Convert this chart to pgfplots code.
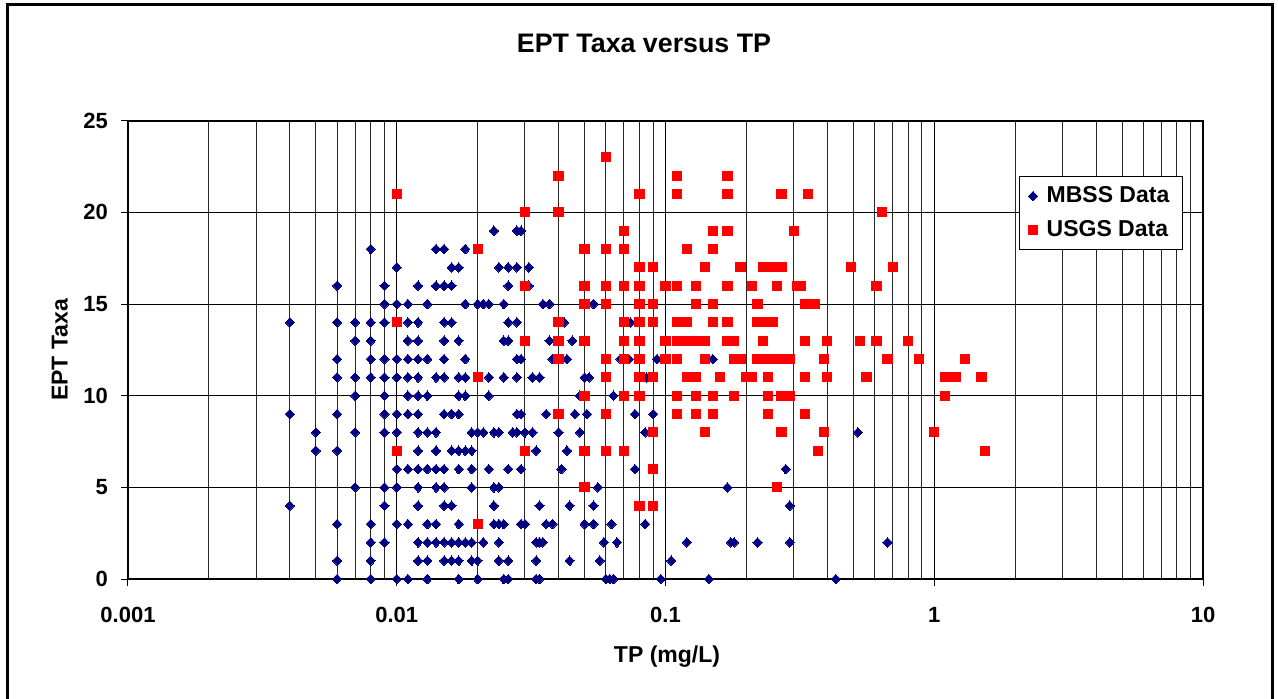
\documentclass[border=0pt]{standalone}
\usepackage{fontspec}
\setmainfont{Liberation Sans}
\usepackage{pgfplots}
\pgfplotsset{compat=1.18}
\definecolor{mbss}{RGB}{0,0,128}
\definecolor{usgs}{RGB}{255,0,0}
\begin{document}
\begin{tikzpicture}
\useasboundingbox (0pt,0pt) rectangle (639pt,349pt);
\draw[line width=1.5pt] (3.5pt,-1pt) -- (3.5pt,346.5pt) -- (636pt,346.5pt) -- (636pt,-1pt);
\begin{axis}[
  at={(64pt,59.5pt)}, anchor=south west,
  scale only axis, width=537.5pt, height=229.15pt,
  xmode=log, log basis x=10,
  xmin=0.001, xmax=10, ymin=0, ymax=25,
  xtick={0.001,0.01,0.1,1,10},
  xticklabels={0.001,0.01,0.1,1,10},
  minor xtick={0.002,0.003,0.004,0.005,0.006,0.007,0.008,0.009,
               0.02,0.03,0.04,0.05,0.06,0.07,0.08,0.09,
               0.2,0.3,0.4,0.5,0.6,0.7,0.8,0.9,
               2,3,4,5,6,7,8,9},
  ytick={0,5,10,15,20,25},
  yticklabels={0,5,10,15,20,25},
  xmajorgrids, xminorgrids, ymajorgrids,
  major grid style={black, line width=0.5pt},
  minor grid style={black!85, line width=0.5pt},
  tick pos=left,
  tick align=outside, major tick length=3.5pt, minor tick length=0pt,
  tick style={black, line width=0.5pt},
  axis line style={black, line width=0.8pt},
  tick label style={font=\fontsize{11pt}{13pt}\selectfont\bfseries},
  xticklabel style={yshift=-7pt},
  yticklabel style={xshift=-3pt},
  title={EPT Taxa versus TP},
  title style={font=\fontsize{13.4pt}{15pt}\selectfont\bfseries, at={(axis description cs:0.480,1.1434)}, anchor=center},
  xlabel={TP (mg/L)},
  xlabel style={font=\fontsize{11.5pt}{14pt}\selectfont\bfseries, at={(axis description cs:0.5014,-0.1702)}, anchor=center},
  ylabel={EPT Taxa},
  ylabel style={font=\fontsize{11.5pt}{14pt}\selectfont\bfseries, at={(axis description cs:-0.0633,0.4997)}, anchor=center, rotate=0},
  legend style={at={(axis description cs:0.8288,0.8793)}, anchor=north west,
    draw=black, line width=0.5pt, fill=white,
    font=\fontsize{11.5pt}{14pt}\selectfont\bfseries,
    inner xsep=4.5pt, inner ysep=3pt, row sep=3.5pt,
    /tikz/every odd column/.append style={column sep=2.5pt}},
  legend cell align=left,
]
\addplot[only marks, mark=diamond*, mark size=2.35pt, mark options={xscale=1.3, draw=mbss, fill=mbss, line width=0pt}] coordinates {
(0.006,0) (0.008,0) (0.010,0) (0.011,0) (0.013,0) (0.017,0) (0.020,0) (0.025,0) (0.026,0) (0.033,0) (0.034,0) (0.060,0) (0.062,0) (0.064,0) (0.096,0) (0.145,0) (0.43,0)
(0.006,1) (0.008,1) (0.012,1) (0.013,1) (0.015,1) (0.016,1) (0.017,1) (0.019,1) (0.020,1) (0.024,1) (0.026,1) (0.033,1) (0.044,1) (0.057,1) (0.105,1)
(0.008,2) (0.009,2) (0.012,2) (0.013,2) (0.014,2) (0.015,2) (0.016,2) (0.017,2) (0.018,2) (0.019,2) (0.021,2) (0.024,2) (0.033,2) (0.034,2) (0.035,2) (0.059,2) (0.066,2) (0.12,2) (0.175,2) (0.18,2) (0.22,2) (0.29,2) (0.67,2)
(0.006,3) (0.008,3) (0.010,3) (0.011,3) (0.013,3) (0.014,3) (0.017,3) (0.023,3) (0.024,3) (0.025,3) (0.029,3) (0.030,3) (0.036,3) (0.038,3) (0.050,3) (0.054,3) (0.063,3) (0.084,3)
(0.004,4) (0.009,4) (0.012,4) (0.015,4) (0.016,4) (0.023,4) (0.034,4) (0.044,4) (0.054,4) (0.29,4)
(0.007,5) (0.009,5) (0.010,5) (0.012,5) (0.014,5) (0.015,5) (0.019,5) (0.023,5) (0.024,5) (0.056,5) (0.17,5)
(0.010,6) (0.011,6) (0.012,6) (0.013,6) (0.014,6) (0.015,6) (0.017,6) (0.019,6) (0.022,6) (0.026,6) (0.029,6) (0.041,6) (0.077,6) (0.28,6)
(0.005,7) (0.006,7) (0.012,7) (0.014,7) (0.016,7) (0.017,7) (0.018,7) (0.019,7) (0.033,7) (0.043,7)
(0.005,8) (0.007,8) (0.009,8) (0.010,8) (0.012,8) (0.013,8) (0.014,8) (0.019,8) (0.020,8) (0.021,8) (0.023,8) (0.024,8) (0.027,8) (0.028,8) (0.030,8) (0.032,8) (0.040,8) (0.048,8) (0.084,8) (0.52,8)
(0.004,9) (0.006,9) (0.009,9) (0.010,9) (0.011,9) (0.012,9) (0.015,9) (0.016,9) (0.017,9) (0.028,9) (0.029,9) (0.036,9) (0.046,9) (0.051,9) (0.077,9) (0.090,9)
(0.007,10) (0.009,10) (0.011,10) (0.012,10) (0.013,10) (0.017,10) (0.018,10) (0.022,10) (0.048,10) (0.064,10)
(0.006,11) (0.007,11) (0.008,11) (0.009,11) (0.010,11) (0.011,11) (0.012,11) (0.014,11) (0.015,11) (0.017,11) (0.018,11) (0.022,11) (0.025,11) (0.028,11) (0.032,11) (0.034,11) (0.050,11) (0.052,11) (0.085,11)
(0.006,12) (0.008,12) (0.009,12) (0.010,12) (0.011,12) (0.012,12) (0.013,12) (0.015,12) (0.018,12) (0.028,12) (0.029,12) (0.038,12) (0.043,12) (0.068,12) (0.073,12) (0.093,12) (0.15,12)
(0.007,13) (0.008,13) (0.011,13) (0.012,13) (0.015,13) (0.017,13) (0.025,13) (0.026,13) (0.037,13) (0.045,13)
(0.004,14) (0.006,14) (0.007,14) (0.008,14) (0.009,14) (0.011,14) (0.012,14) (0.015,14) (0.016,14) (0.026,14) (0.028,14) (0.042,14) (0.074,14)
(0.009,15) (0.010,15) (0.011,15) (0.013,15) (0.018,15) (0.020,15) (0.021,15) (0.022,15) (0.025,15) (0.035,15) (0.037,15) (0.054,15)
(0.006,16) (0.009,16) (0.012,16) (0.014,16) (0.015,16) (0.016,16) (0.026,16) (0.031,16)
(0.010,17) (0.016,17) (0.017,17) (0.024,17) (0.026,17) (0.028,17) (0.031,17)
(0.008,18) (0.014,18) (0.015,18) (0.018,18)
(0.023,19) (0.028,19) (0.029,19)
};
\addlegendentry{MBSS Data}
\addplot[only marks, mark=square*, mark size=2.3pt, mark options={draw=usgs, fill=usgs, line width=0pt}] coordinates {
(0.02,3)
(0.08,4) (0.09,4)
(0.05,5) (0.26,5)
(0.09,6)
(0.01,7) (0.03,7) (0.05,7) (0.06,7) (0.07,7) (0.37,7) (1.55,7)
(0.09,8) (0.14,8) (0.27,8) (0.39,8) (1.0,8)
(0.04,9) (0.06,9) (0.11,9) (0.13,9) (0.15,9) (0.24,9) (0.33,9)
(0.05,10) (0.07,10) (0.08,10) (0.11,10) (0.13,10) (0.15,10) (0.18,10) (0.24,10) (0.27,10) (0.29,10) (1.1,10)
(0.02,11) (0.06,11) (0.08,11) (0.09,11) (0.12,11) (0.13,11) (0.16,11) (0.20,11) (0.21,11) (0.24,11) (0.33,11) (0.40,11) (0.56,11) (1.1,11) (1.2,11) (1.5,11)
(0.04,12) (0.06,12) (0.07,12) (0.08,12) (0.10,12) (0.11,12) (0.14,12) (0.18,12) (0.19,12) (0.22,12) (0.24,12) (0.26,12) (0.28,12) (0.29,12) (0.39,12) (0.67,12) (0.88,12) (1.3,12)
(0.03,13) (0.04,13) (0.05,13) (0.07,13) (0.08,13) (0.10,13) (0.11,13) (0.12,13) (0.13,13) (0.14,13) (0.17,13) (0.18,13) (0.23,13) (0.33,13) (0.40,13) (0.53,13) (0.61,13) (0.80,13)
(0.01,14) (0.04,14) (0.07,14) (0.08,14) (0.09,14) (0.11,14) (0.12,14) (0.15,14) (0.17,14) (0.22,14) (0.23,14) (0.25,14)
(0.05,15) (0.06,15) (0.08,15) (0.09,15) (0.13,15) (0.15,15) (0.22,15) (0.33,15) (0.36,15)
(0.03,16) (0.05,16) (0.06,16) (0.07,16) (0.08,16) (0.10,16) (0.11,16) (0.13,16) (0.17,16) (0.21,16) (0.26,16) (0.31,16) (0.32,16) (0.61,16)
(0.08,17) (0.09,17) (0.14,17) (0.19,17) (0.23,17) (0.25,17) (0.27,17) (0.49,17) (0.70,17)
(0.02,18) (0.05,18) (0.06,18) (0.07,18) (0.12,18) (0.15,18)
(0.07,19) (0.15,19) (0.17,19) (0.30,19)
(0.03,20) (0.04,20) (0.64,20)
(0.01,21) (0.08,21) (0.11,21) (0.17,21) (0.27,21) (0.34,21)
(0.04,22) (0.11,22) (0.17,22)
(0.06,23)
};
\addlegendentry{USGS Data}
\end{axis}
\end{tikzpicture}
\end{document}
